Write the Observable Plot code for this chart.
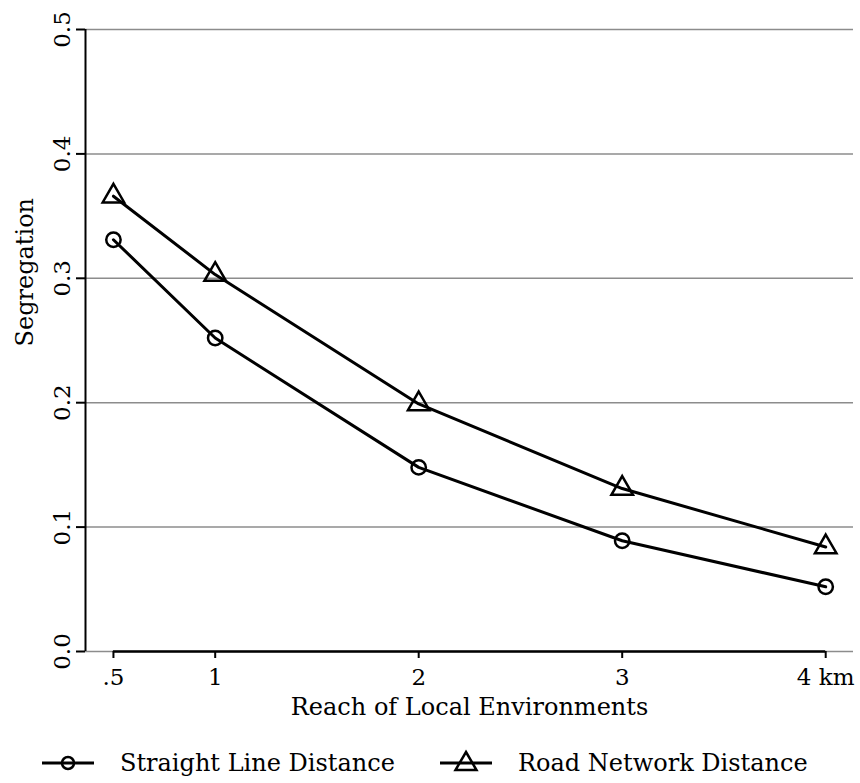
<!DOCTYPE html>
<html><head><meta charset="utf-8">
<script src="https://cdn.jsdelivr.net/npm/d3@7"></script>
<script src="https://cdn.jsdelivr.net/npm/@observablehq/plot@0.6"></script>
<style>
body{margin:0;background:#fff;font-family:"DejaVu Serif",serif;color:#000;}
#chart{position:relative;width:860px;height:783px;}
#legend{position:relative;height:48px;}
.item{position:absolute;top:0;height:56px;display:flex;align-items:center;font-size:24px;white-space:nowrap;}
.item svg{margin-right:26px;}
</style></head><body><div id="chart"></div>
<script>
// ---- data ----
const reach = [0.5, 1, 2, 3, 4];
const reachLabels = [".5", "1", "2", "3", "4 km"];
const straightLine = [0.331, 0.252, 0.148, 0.089, 0.052];
const roadNetwork = [0.366, 0.303, 0.199, 0.131, 0.084];
const yTicks = [0, 0.1, 0.2, 0.3, 0.4, 0.5];
const seriesNames = ["Straight Line Distance", "Road Network Distance"];
const xTitle = "Reach of Local Environments";
const yTitle = "Segregation";

const slRows = reach.map((r, i) => ({reach: r, value: straightLine[i], series: seriesNames[0]}));
const rnRows = reach.map((r, i) => ({reach: r, value: roadNetwork[i], series: seriesNames[1]}));
const rows = slRows.concat(rnRows);

const xDomain = [0.3627, 4.1366];
const serif = '"DejaVu Serif", serif';

const chart = Plot.plot({
  width: 860,
  height: 735,
  marginLeft: 85,
  marginRight: 7,
  marginTop: 29,
  marginBottom: 84,
  style: {fontFamily: serif, fontSize: "23px", color: "#000", background: "#fff"},
  x: {domain: xDomain},
  y: {domain: [0, 0.5]},
  marks: [
    Plot.ruleY(yTicks, {stroke: "#8c8c8c", strokeWidth: 1.5}),
    Plot.ruleX([xDomain[0]], {y1: 0, y2: 0.5, stroke: "#000", strokeWidth: 2}),
    Plot.ruleY([0], {x1: reach[0], x2: reach[reach.length - 1], stroke: "#000", strokeWidth: 2.5}),
    Plot.axisY({ticks: yTicks, tickSize: 9, tickRotate: -90, tickPadding: 7, tickFormat: d => d.toFixed(1), fontSize: 23, fontFamily: serif, strokeWidth: 2, label: null}),
    Plot.axisX({ticks: reach, tickSize: 7, tickPadding: 10, tickFormat: (d, i) => reachLabels[i], fontSize: 23, fontFamily: serif, strokeWidth: 2, label: null}),
    Plot.line(rows, {x: "reach", y: "value", z: "series", stroke: "#000", strokeWidth: 3}),
    Plot.dot(slRows, {x: "reach", y: "value", symbol: "circle", r: 7.2, stroke: "#000", strokeWidth: 2.5, fill: "none"}),
    Plot.dot(rnRows, {x: "reach", y: "value", symbol: "triangle", r: 8, stroke: "#000", strokeWidth: 2.5, fill: "none"}),
    Plot.text([xTitle], {frameAnchor: "bottom", dy: 63, fontSize: 24, fontFamily: serif}),
    Plot.text([yTitle], {frameAnchor: "left", dx: -60, dy: 6, rotate: -90, fontSize: 24, fontFamily: serif})
  ]
});
document.getElementById("chart").appendChild(chart);

// ---- legend ----
const legend = document.createElement("div");
legend.id = "legend";
const sym = {
  circle: '<circle cx="26" cy="14" r="6" fill="none" stroke="#000" stroke-width="2.5"/>',
  triangle: '<path d="M26,3 L36.5,21 L15.5,21 Z" fill="none" stroke="#000" stroke-width="2.5"/>'
};
const legendSymbols = ["circle", "triangle"];
const legendLeft = [42, 440];
seriesNames.forEach((name, i) => {
  const it = document.createElement("div");
  it.className = "item";
  it.style.left = legendLeft[i] + "px";
  it.innerHTML = `<svg width="52" height="28" viewBox="0 0 52 28"><line x1="0" y1="14" x2="52" y2="14" stroke="#000" stroke-width="3"/>${sym[legendSymbols[i]]}</svg><span>${name}</span>`;
  legend.appendChild(it);
});
document.getElementById("chart").appendChild(legend);
</script></body></html>
